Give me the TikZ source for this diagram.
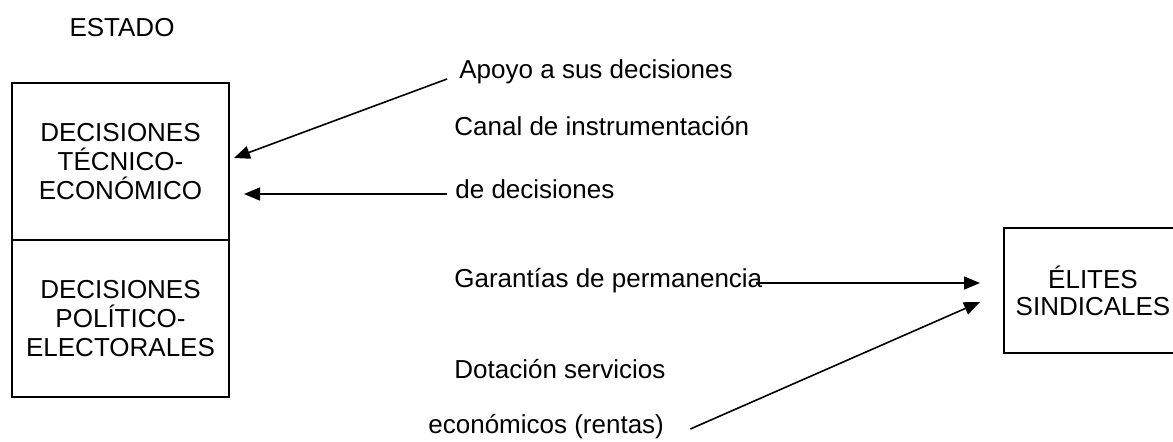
\documentclass[tikz,border=0pt]{standalone}
\usepackage{fontspec}
\setmainfont{Liberation Sans}
\usetikzlibrary{arrows.meta}

\begin{document}
\begin{tikzpicture}[x=0.5pt, y=-0.5pt,
				flecha/.style={-{Triangle[length=8pt,width=6.5pt]}, line width=0.8pt},
				caja/.style={draw, line width=1pt, align=center, inner sep=0pt},
				etiqueta/.style={anchor=base west, inner sep=0pt},
				every node/.style={font=\fontsize{13}{14.5}\selectfont}]
				\useasboundingbox (0,0) rectangle (1173,441);
				\node at (122,36) (estado) [anchor=base, inner sep=0pt] {ESTADO};
				\node at (120.5,161.5) (tec) [caja, minimum width=108.5pt, minimum height=78.5pt] {DECISIONES\\TÉCNICO-\\ECONÓMICO};
				\node at (120.5,318.5) (pol) [caja, minimum width=108.5pt, minimum height=78.5pt] {DECISIONES\\POLÍTICO-\\ELECTORALES};
				\node at (1093,290.5) (elites) [caja, minimum width=89pt, minimum height=62.5pt, font=\fontsize{13}{13.5}\selectfont] {ÉLITES\\SINDICALES};
				\node at (459,78) (apoyo) [etiqueta] {Apoyo a sus decisiones};
				\node at (454,135) (canal) [etiqueta] {Canal de instrumentación};
				\node at (455,198) (dedec) [etiqueta] {de decisiones};
				\node at (454,287) (garantias) [etiqueta] {Garantías de permanencia};
				\node at (454,378) (dotacion) [etiqueta] {Dotación servicios};
				\node at (428,433) (economicos) [etiqueta] {económicos (rentas)};
				\draw[flecha] ([shift={(-12,1)}]apoyo.base west) -- ([shift={(4,-3.5)}]tec.east);
				\draw[flecha] ([shift={(-8,-4)}]dedec.base west) -- ([shift={(14,32.5)}]tec.east);
				\draw[flecha] ([shift={(-7,-4)}]garantias.base east) -- ([shift={(-23,-7.5)}]elites.west);
				\draw[flecha] ([shift={(26,-4)}]economicos.base east) -- ([shift={(-23,11.5)}]elites.west);
			\end{tikzpicture}
\end{document}
